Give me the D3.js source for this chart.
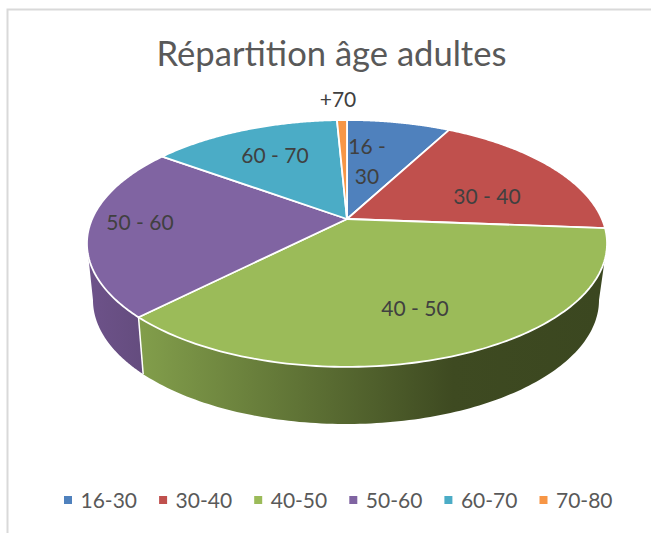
<!DOCTYPE html>
<html>
<head>
<meta charset="utf-8">
<script src="https://cdn.jsdelivr.net/npm/d3@7"></script>
<style>
  html, body { margin: 0; padding: 0; background: #fff; }
  svg { display: block; }
  text { font-family: Lato, "Open Sans", sans-serif; }
</style>
</head>
<body>
<div id="chart"></div>
<script>
const title = "Répartition âge adultes";
const categories = ["16-30", "30-40", "40-50", "50-60", "60-70", "70-80"];
const sliceLabels = ["16 -\n30", "30 - 40", "40 - 50", "50 - 60", "60 - 70", "+70"];
const shares = [7.8, 18.4, 36.2, 22.6, 14.25, 0.75];
const colors = ["#4f81bd", "#c0504d", "#9bbb59", "#8064a2", "#4bacc6", "#f79646"];

const w = 651, h = 533;
const svg = d3.select("#chart").append("svg").attr("width", w).attr("height", h);

// cadre du graphique (ouvert a droite et en bas comme la capture)
svg.append("path")
    .attr("d", `M7.5,${h}V9.5H${w}`)
    .attr("fill", "none")
    .attr("stroke", "#d9d9d9")
    .attr("stroke-width", 2);

svg.append("text")
    .attr("x", 331.5).attr("y", 66)
    .attr("text-anchor", "middle")
    .attr("font-size", 34.6)
    .attr("fill", "#595959")
    .text(title);

// Projection du disque en perspective : le sommet n'est pas au centre de l'ellipse
const k = 0.198;
const disc = (x0, y0, A, B) => angle => {
    const u = Math.sin(angle), v = Math.cos(angle), t = 1 + k * v;
    return [x0 + A * u / t, y0 - B * v / t];
};
const cx = 347, cy = 219;
const upperRim = disc(cx, cy, 254.9, 118.6);
const lowerRim = disc(346, 275.5, 248, 119.1);

const pie = d3.pie().sort(null).value(d => d)(shares);
const line = d3.line();
const rim = (a0, a1, fn) => d3.range(0, 121).map(i => fn(a0 + (a1 - a0) * i / 120));

const defs = svg.append("defs");
const addGradient = (id, x1, x2, stops) => {
    const g = defs.append("linearGradient").attr("id", id)
        .attr("gradientUnits", "userSpaceOnUse")
        .attr("x1", x1).attr("x2", x2).attr("y1", 0).attr("y2", 0);
    stops.forEach(s => g.append("stop").attr("offset", s[0]).attr("stop-color", s[1]));
    return `url(#${id})`;
};

// Flanc visible : seulement les parts 40-50 et 50-60.
// La silhouette part du point ou le bord de l'ellipse est vertical.
const tangent = Math.acos(-k);
const green = pie[2], purple = pie[3];
const greenFill = addGradient("side-green", 140, 600, [[0, "#829e4b"], [0.68, "#3e4a21"], [1, "#3b4720"]]);
const purpleFill = addGradient("side-purple", 90, 145, [[0, "#6d5289"], [1, "#644c7e"]]);

svg.append("path")
    .attr("d", line([
        upperRim(2 * Math.PI - tangent),
        ...rim(2 * Math.PI - tangent, purple.startAngle, lowerRim),
        upperRim(purple.startAngle)
    ]) + "Z")
    .attr("fill", purpleFill);

svg.append("path")
    .attr("d", line([
        upperRim(tangent),
        ...rim(tangent, green.endAngle, lowerRim),
        upperRim(green.endAngle)
    ]) + "Z")
    .attr("fill", greenFill);

// arete blanche entre les deux flancs
svg.append("path")
    .attr("d", line([upperRim(green.endAngle), lowerRim(green.endAngle)]))
    .attr("stroke", "#fff")
    .attr("stroke-width", 1.5)
    .attr("fill", "none");

// Dessus du camembert
svg.selectAll("path.slice")
    .data(pie)
    .join("path")
    .attr("class", "slice")
    .attr("d", d => line([[cx, cy], ...rim(d.startAngle, d.endAngle, upperRim)]) + "Z")
    .attr("fill", (d, i) => colors[i])
    .attr("stroke", "#fff")
    .attr("stroke-width", 1.8)
    .attr("stroke-linejoin", "round");

// Etiquettes placees a la main comme dans Excel
const labelPos = [[367, 154], [487, 204], [415, 316], [140, 230], [275, 163], [338, 107]];
svg.selectAll("text.lab")
    .data(sliceLabels)
    .join("text")
    .attr("class", "lab")
    .attr("text-anchor", "middle")
    .attr("font-size", 21)
    .attr("fill", "#404040")
    .each(function(d, i) {
        d3.select(this).selectAll("tspan")
            .data(d.split("\n"))
            .join("tspan")
            .attr("x", labelPos[i][0])
            .attr("y", (t, j) => labelPos[i][1] + j * 30)
            .text(t => t);
    });

// Legende
const legendX = d3.scalePoint().domain(categories).range([64, 539.5]);
const legend = svg.selectAll("g.leg")
    .data(categories)
    .join("g")
    .attr("class", "leg")
    .attr("transform", d => `translate(${legendX(d)},501)`);
legend.append("rect")
    .attr("y", -5).attr("width", 8).attr("height", 8)
    .attr("fill", (d, i) => colors[i]);
legend.append("text")
    .attr("x", 16.5).attr("y", 7)
    .attr("font-size", 21)
    .attr("fill", "#595959")
    .text(d => d);
</script>
</body>
</html>
